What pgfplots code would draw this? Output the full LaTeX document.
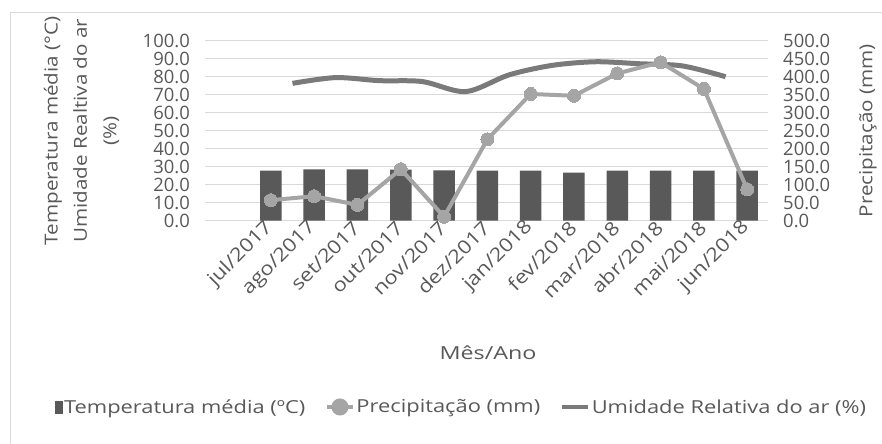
\documentclass[border=0pt]{standalone}
\usepackage{pgfplots}
\pgfplotsset{compat=1.18}
\usepackage{fontspec}
\setmainfont{Open Sans}
\newfontfamily\ttlfont[FakeStretch=1.15]{Open Sans}
\newfontfamily\xlfont[FakeStretch=1.3]{Open Sans}
\newfontfamily\legfont[FakeStretch=1.22]{Open Sans}
\newfontfamily\xtfont[FakeStretch=1.15]{Open Sans}
\definecolor{txt}{HTML}{595959}
\definecolor{gridc}{HTML}{D9D9D9}
\definecolor{barc}{HTML}{595959}
\definecolor{prec}{HTML}{A5A5A5}
\definecolor{umid}{HTML}{7A7A7A}
\pgfplotsset{
  common/.style={
    at={(205bp,223.3bp)}, anchor=south west,
    scale only axis, width=563bp, height=180bp,
    xmin=-1.52, xmax=11.48,
    axis line style={draw=none},
    major tick length=0pt,
    /pgf/number format/assume math mode=true,
    /pgf/number format/fixed,
    /pgf/number format/fixed zerofill,
    /pgf/number format/precision=1,
    tick label style={text=txt, font=\fontsize{18.5}{18.5}\selectfont},
    label style={text=txt},
  }
}
\begin{document}
\begin{tikzpicture}[x=1bp,y=1bp]
\useasboundingbox (0,0) rectangle (882,444);
\fill[white] (0,0) rectangle (882,444);
\draw[gridc, line width=1bp] (10,0) -- (10,431) -- (882,431);
\begin{axis}[common,
  ymin=0, ymax=100, ytick={0,10,...,100},
  axis x line*=bottom, axis y line*=left,
  ymajorgrids, grid style={gridc, line width=1.5bp},
  yticklabel style={anchor=east, inner sep=0pt, xshift=-15bp},
  xtick={0,...,11},
  xticklabels={jul/2017,ago/2017,set/2017,out/2017,nov/2017,dez/2017,jan/2018,fev/2018,mar/2018,abr/2018,mai/2018,jun/2018},
  xticklabel style={xshift=-1bp, yshift=-4bp, rotate=45, anchor=east, inner sep=0pt, font=\xtfont\fontsize{19}{19}\selectfont},
  xlabel={Mês/Ano},
  xlabel style={at={(axis description cs:0.5027,-0.735)}, anchor=center, font=\xlfont\fontsize{18}{18}\selectfont},
  ylabel={Temperatura média (°C)\\Umidade Realtiva do ar\\(\%)},
  ylabel style={at={(axis description cs:-0.2194,0.5)}, anchor=center, align=center, font=\ttlfont\fontsize{18}{29.5}\selectfont},
]
\addplot[ybar, bar width=21.5bp, fill=barc, draw=none] coordinates {
  (0,27.8) (1,28.5) (2,28.5) (3,28.4) (4,28.0) (5,27.8)
  (6,27.8) (7,26.7) (8,27.8) (9,27.8) (10,27.8) (11,27.8)};
\addplot[umid, line width=5bp, smooth, tension=0.5] coordinates {
  (0.5,76.3) (1.5,79.5) (2.5,77.8) (3.5,77.3) (4.5,71.7) (5.5,81.0)
  (6.5,86.3) (7.5,88.3) (8.5,87.2) (9.5,86.0) (10.5,80.0)};
\end{axis}
\begin{axis}[common,
  ymin=0, ymax=500, ytick={0,50,...,500},
  axis x line*=bottom, axis y line*=right,
  xtick=\empty,
  yticklabel style={anchor=west, inner sep=0pt, xshift=15bp},
  ylabel={Precipitação (mm)},
  ylabel style={at={(axis description cs:1.1776,0.5)}, anchor=center, rotate=0, font=\ttlfont\fontsize{18}{18}\selectfont},
  legend style={at={(axis description cs:0.455,-1.035)}, anchor=center, draw=none, fill=none,
    legend columns=3, font=\legfont\fontsize{18}{20}\selectfont, text=txt,
    /tikz/every even column/.append style={column sep=18bp},
    nodes={inner sep=1.5bp}},
  legend cell align=left,
]
\addlegendimage{legend image code/.code={\fill[barc] (0bp,-6bp) rectangle (7.5bp,6bp);}}
\addlegendentry{Temperatura média (ºC)}
\addplot[prec, line width=4bp, mark=*, mark size=6.5bp, mark options={fill=prec, draw=prec, line width=0pt},
  legend image code/.code={\draw[prec, line width=4bp] (0bp,0bp) -- (26bp,0bp); \fill[prec] (13bp,0bp) circle (6.5bp);}]
  coordinates {
  (0,57) (1,68) (2,44) (3,143) (4,11) (5,226)
  (6,352) (7,347) (8,409) (9,440) (10,366) (11,87)};
\addlegendentry{Precipitação (mm)}
\addlegendimage{legend image code/.code={\draw[umid, line width=4.5bp] (0bp,0bp) -- (26bp,0bp);}}
\addlegendentry{Umidade Relativa do ar (\%)}
\end{axis}
\end{tikzpicture}
\end{document}
